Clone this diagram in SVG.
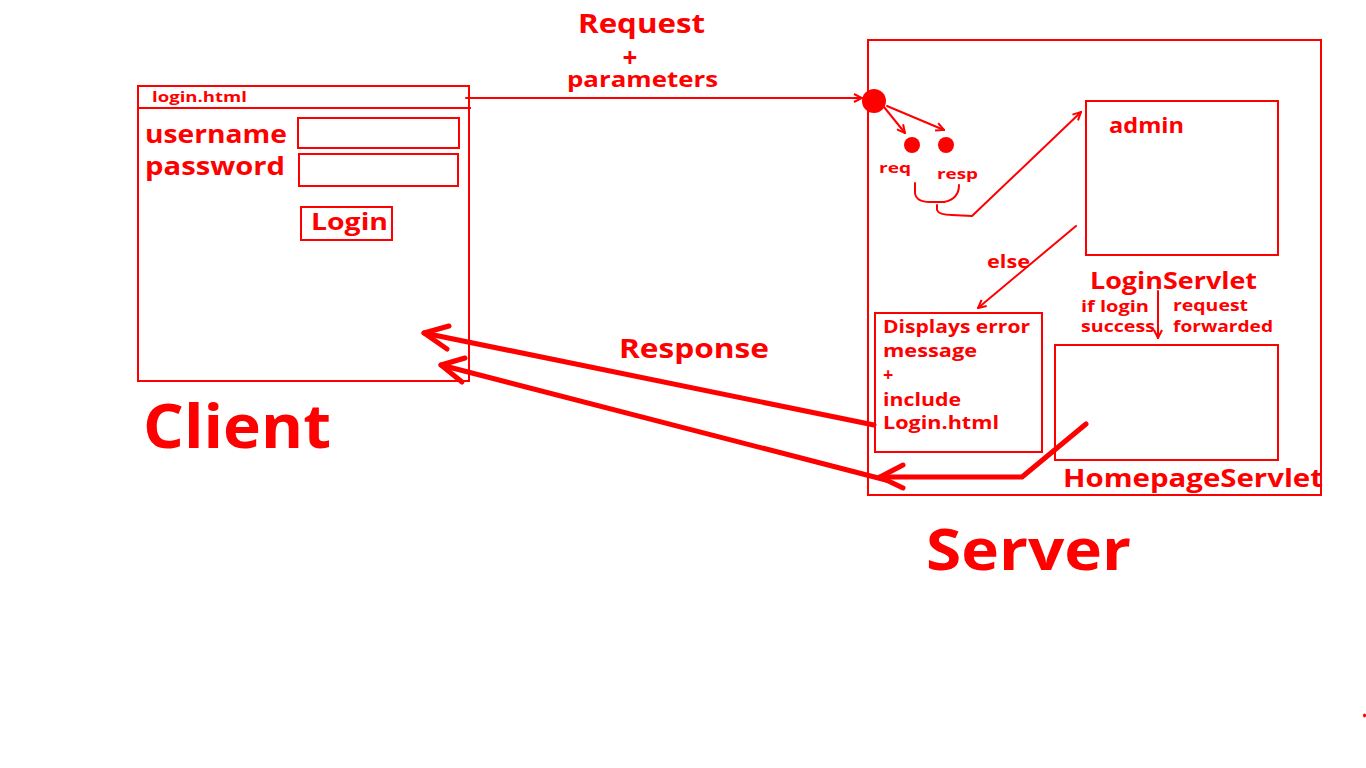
<svg xmlns="http://www.w3.org/2000/svg" width="1366" height="768" viewBox="0 0 1366 768">
<defs>
<style>
text{font-family:"Open Sans","DejaVu Sans",sans-serif;font-weight:700;fill:#ff0000}
.box{fill:none;stroke:#ff0000;stroke-width:2}
.thin{fill:none;stroke:#ff0000;stroke-width:2;stroke-linecap:round;stroke-linejoin:round}
.thick{fill:none;stroke:#ff0000;stroke-width:5;stroke-linecap:round;stroke-linejoin:round}
</style>
<marker id="ah" markerWidth="10" markerHeight="10" refX="9" refY="5" orient="auto" markerUnits="userSpaceOnUse">
<path d="M1,1 L9,5 L1,9" fill="none" stroke="#ff0000" stroke-width="2"/>
</marker>
</defs>
<rect width="1366" height="768" fill="#ffffff"/>

<g id="client">
<rect class="box" x="138" y="86" width="331" height="295"/>
<line class="box" x1="138" y1="108" x2="471" y2="108"/>
<text x="152" y="102" font-size="15" textLength="95" lengthAdjust="spacingAndGlyphs">login.html</text>
<text x="145" y="143" font-size="25" textLength="142" lengthAdjust="spacingAndGlyphs">username</text>
<text x="145" y="175" font-size="25" textLength="140" lengthAdjust="spacingAndGlyphs">password</text>
<rect class="box" x="298" y="118" width="161" height="30"/>
<rect class="box" x="299" y="154" width="159" height="32"/>
<rect class="box" x="301" y="207" width="91" height="33"/>
<text x="311" y="230" font-size="24" textLength="77" lengthAdjust="spacingAndGlyphs">Login</text>
<text x="143" y="448" font-size="60" textLength="188" lengthAdjust="spacingAndGlyphs">Client</text>
</g>

<g id="server">
<rect class="box" x="868" y="40" width="453" height="455"/>
<text x="926" y="570" font-size="58" textLength="205" lengthAdjust="spacingAndGlyphs">Server</text>
</g>

<g id="dispatch">
<circle cx="874" cy="101" r="12" fill="#ff0000"/>
</g>
<g id="req">
<circle cx="912" cy="145" r="8" fill="#ff0000"/>
<text x="879" y="173" font-size="15" textLength="32" lengthAdjust="spacingAndGlyphs">req</text>
</g>
<g id="resp">
<circle cx="946" cy="145" r="8" fill="#ff0000"/>
<text x="937" y="179" font-size="15" textLength="41" lengthAdjust="spacingAndGlyphs">resp</text>
</g>

<g id="loginservlet">
<rect class="box" x="1086" y="101" width="192" height="154"/>
<text x="1109" y="133" font-size="21" textLength="75" lengthAdjust="spacingAndGlyphs">admin</text>
<text x="1090" y="289" font-size="23" textLength="167" lengthAdjust="spacingAndGlyphs">LoginServlet</text>
</g>

<g id="error">
<rect class="box" x="875" y="313" width="167" height="139"/>
<text font-size="18">
<tspan x="883" y="333" textLength="147" lengthAdjust="spacingAndGlyphs">Displays error</tspan>
<tspan x="883" y="357" textLength="94" lengthAdjust="spacingAndGlyphs">message</tspan>
<tspan x="883" y="381">+</tspan>
<tspan x="883" y="406" textLength="78" lengthAdjust="spacingAndGlyphs">include</tspan>
<tspan x="883" y="429" textLength="116" lengthAdjust="spacingAndGlyphs">Login.html</tspan>
</text>
</g>

<g id="homepage">
<rect class="box" x="1055" y="345" width="223" height="115"/>
<text x="1063" y="487" font-size="25" textLength="260" lengthAdjust="spacingAndGlyphs">HomepageServlet</text>
</g>

<g id="connectors">
<line class="thin" x1="466" y1="98" x2="862" y2="98" marker-end="url(#ah)"/>
<text x="578" y="33" font-size="27" textLength="127" lengthAdjust="spacingAndGlyphs">Request</text>
<text x="630" y="67" font-size="26" text-anchor="middle">+</text>
<text x="567" y="87" font-size="21" textLength="151" lengthAdjust="spacingAndGlyphs">parameters</text>

<line class="thin" x1="884" y1="107" x2="905" y2="133" marker-end="url(#ah)"/>
<line class="thin" x1="887" y1="106" x2="944" y2="130" marker-end="url(#ah)"/>

<path class="thin" d="M915,183 L915,193 Q916,202 930,202 L944,202 Q959,199 959,185"/>
<path class="thin" d="M937,205 L937,210 Q939,215 952,215 L972,216 L1081,112" marker-end="url(#ah)"/>

<line class="thin" x1="1076" y1="226" x2="978" y2="308" marker-end="url(#ah)"/>
<text x="987" y="268" font-size="17" textLength="43" lengthAdjust="spacingAndGlyphs">else</text>

<line class="thin" x1="1158" y1="291" x2="1158" y2="338" marker-end="url(#ah)"/>
<text x="1081" y="312" font-size="16" textLength="68" lengthAdjust="spacingAndGlyphs">if login</text>
<text x="1081" y="332" font-size="16" textLength="74" lengthAdjust="spacingAndGlyphs">success</text>
<text x="1173" y="311" font-size="16" textLength="75" lengthAdjust="spacingAndGlyphs">request</text>
<text x="1173" y="332" font-size="16" textLength="100" lengthAdjust="spacingAndGlyphs">forwarded</text>

<line class="thick" x1="874" y1="425" x2="424" y2="333"/>
<path class="thick" d="M449,326 L424,333 L447,349"/>
<text x="619" y="358" font-size="26" textLength="150" lengthAdjust="spacingAndGlyphs">Response</text>

<path class="thick" d="M1086,424 L1022,477 L880,477"/>
<path class="thick" d="M903,465 L880,477 L903,488"/>
<line class="thick" x1="886" y1="480" x2="441" y2="365"/>
<path class="thick" d="M465,358 L441,365 L462,382"/>
</g>

<ellipse cx="1364.5" cy="715.5" rx="1.5" ry="2" fill="#ff0000"/>
</svg>
